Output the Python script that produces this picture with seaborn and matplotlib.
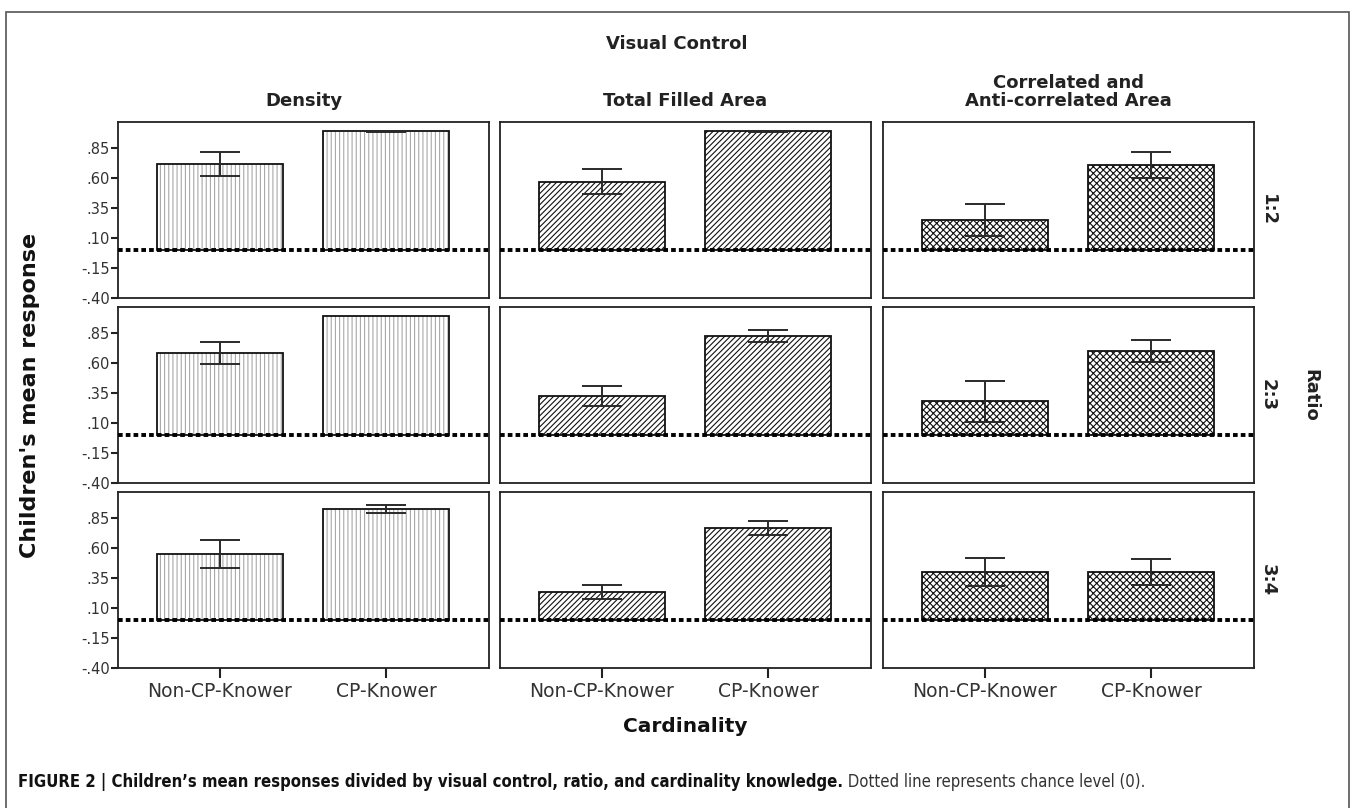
import numpy as np
import pandas as pd
import matplotlib
matplotlib.use("Agg")
import matplotlib.pyplot as plt
from matplotlib.patches import Rectangle
import seaborn as sns

# --- data ---
controls = ["Density", "Total Filled Area", "Correlated and\nAnti-correlated Area"]
ratios = ["1:2", "2:3", "3:4"]
cardinality = ["Non-CP-Knower", "CP-Knower"]

# mean response, one list per visual control: [ratio][cardinality]
density_mean = [[0.72, 0.99], [0.686, 0.994], [0.55, 0.925]]
density_se = [[0.10, 0.005], [0.09, np.nan], [0.115, 0.035]]
total_mean = [[0.57, 0.99], [0.325, 0.825], [0.233, 0.767]]
total_se = [[0.105, 0.005], [0.085, 0.05], [0.06, 0.058]]
corr_mean = [[0.25, 0.71], [0.28, 0.70], [0.40, 0.40]]
corr_se = [[0.135, 0.11], [0.17, 0.095], [0.115, 0.11]]

ytick_vals = [-0.40, -0.15, 0.10, 0.35, 0.60, 0.85]
ytick_labels = ["-.40", "-.15", ".10", ".35", ".60", ".85"]

means = [density_mean, total_mean, corr_mean]
ses = [density_se, total_se, corr_se]
hatches = ["||||", "//////", "xxxxx"]
hatch_colors = ["#a8a8a8", "#111111", "#111111"]

rows = []
for c, ctrl in enumerate(controls):
    for r, rat in enumerate(ratios):
        for k, card in enumerate(cardinality):
            rows.append({"control": ctrl, "ratio": rat, "cardinality": card,
                         "mean": means[c][r][k], "se": ses[c][r][k]})
df = pd.DataFrame(rows)

# --- figure ---
sns.set_theme(style="white")
plt.rcParams["font.family"] = ["DejaVu Sans"]
plt.rcParams["hatch.linewidth"] = 0.8

W, H = 1355, 808
fig = plt.figure(figsize=(W / 100, H / 100), dpi=100)

col_left = [118, 500, 883]
row_top = [122, 307, 492]
pw, ph = 371, 176

for r, rat in enumerate(ratios):
    for c, ctrl in enumerate(controls):
        ax = fig.add_axes([col_left[c] / W, 1 - (row_top[r] + ph) / H, pw / W, ph / H])
        sub = df[(df.control == ctrl) & (df.ratio == rat)]

        # hatch layer
        sns.barplot(data=sub, x="cardinality", y="mean", order=cardinality,
                    errorbar=None, width=0.76, color="white", ax=ax,
                    hatch=hatches[c], edgecolor=hatch_colors[c], linewidth=0)
        # outline layer
        sns.barplot(data=sub, x="cardinality", y="mean", order=cardinality,
                    errorbar=None, width=0.76, fill=False, color="#111111",
                    linewidth=1.3, ax=ax)

        ax.errorbar(np.arange(len(cardinality)), sub["mean"], yerr=sub["se"],
                    fmt="none", ecolor="#2a2a2a", elinewidth=1.4,
                    capsize=14.5, capthick=1.4, zorder=5)

        ax.axhline(0, color="black", lw=2.8, ls=(0, (1.2, 0.8)), zorder=6)

        ax.set_ylim(-0.40, 1.067)
        ax.set_xlim(-0.614, 1.62)
        ax.set_xlabel("")
        ax.set_ylabel("")
        for s in ax.spines.values():
            s.set_color("#222222")
            s.set_linewidth(1.3)
            s.set_visible(True)

        if c == 0:
            ax.set_yticks(ytick_vals)
            ax.set_yticklabels(ytick_labels, fontsize=10.5, color="#333333")
            ax.tick_params(axis="y", left=True, length=5, width=1.5,
                           color="#222222", pad=1)
        else:
            ax.set_yticks([])
        if r == len(ratios) - 1:
            ax.set_xticks(range(len(cardinality)))
            ax.set_xticklabels(cardinality, fontsize=13.5, color="#333333")
            ax.tick_params(axis="x", bottom=True, length=7, width=1.5,
                           color="#222222", pad=3)
        else:
            ax.set_xticks([])

# --- titles and labels ---
fig.text(677 / W, 1 - 44 / H, "Visual Control", ha="center", va="center",
         fontsize=13, fontweight="bold", color="#222222")
for c, ctrl in enumerate(controls):
    fig.text((col_left[c] + pw / 2) / W, 1 - 110 / H, ctrl, ha="center",
             va="bottom", fontsize=13, fontweight="bold", color="#222222",
             linespacing=1.0)
for r, rat in enumerate(ratios):
    fig.text(1268 / W, 1 - (row_top[r] + ph / 2) / H, rat, ha="center",
             va="center", rotation=-90, fontsize=13, fontweight="bold",
             color="#222222")
fig.text(1310 / W, 1 - 395 / H, "Ratio", ha="center", va="center",
         rotation=-90, fontsize=13, fontweight="bold", color="#222222")
fig.text(30 / W, 1 - 395 / H, "Children's mean response", ha="center",
         va="center", rotation=90, fontsize=16, fontweight="bold",
         color="#111111")
fig.text(685 / W, 1 - 727 / H, "Cardinality", ha="center", va="center",
         fontsize=14.5, fontweight="bold", color="#111111")

# --- frame and caption ---
fig.add_artist(Rectangle((6 / W, -0.02), (1349 - 6) / W, 1.02 - 12 / H,
                         transform=fig.transFigure, fill=False,
                         edgecolor="#555555", linewidth=1.2))

cap_family = ["Liberation Sans Narrow", "DejaVu Sans"]
t1 = fig.text(18 / W, 1 - 782 / H,
              "FIGURE 2 | Children\u2019s mean responses divided by visual control, "
              "ratio, and cardinality knowledge.",
              ha="left", va="center", fontsize=12, fontweight="bold",
              fontstretch="condensed", family=cap_family, color="#111111")
fig.axes[0].annotate(" Dotted line represents chance level (0).", xy=(1, 0),
                     xycoords=t1, ha="left", va="bottom", fontsize=12,
                     fontstretch="condensed", family=cap_family,
                     color="#333333", annotation_clip=False)

fig.savefig("out.png", dpi=100)
